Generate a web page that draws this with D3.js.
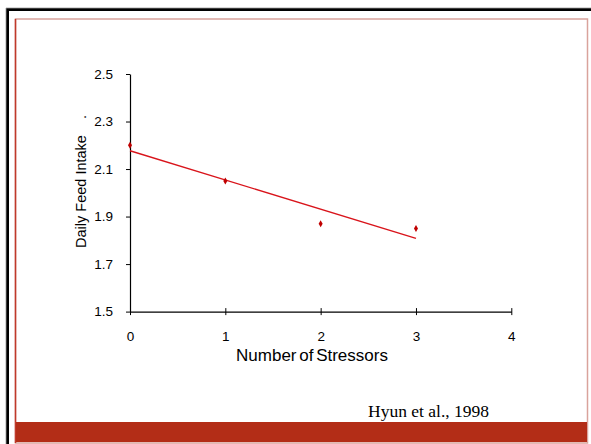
<!DOCTYPE html>
<html>
<head>
<meta charset="utf-8">
<script src="https://cdn.jsdelivr.net/npm/d3@7"></script>
<style>
  body { margin: 0; background: #fff; }
  svg { display: block; }
</style>
</head>
<body>
<script>
var w = 591;
var h = 444;

// data
var stressors = [0, 1, 2, 3];
var intake = [2.2, 2.05, 1.87, 1.85];
var xTicks = [0, 1, 2, 3, 4];
var yTicks = [1.5, 1.7, 1.9, 2.1, 2.3, 2.5];

var svg = d3.select("body")
    .append("svg")
    .attr("width", w)
    .attr("height", h);

// slide frame
svg.append("rect").attr("x", 0).attr("y", 0).attr("width", w).attr("height", h).attr("fill", "#fff");
svg.append("path")
    .attr("d", "M7.5," + h + "V9.5H" + w)
    .attr("fill", "none")
    .attr("stroke", "#000")
    .attr("stroke-width", 3);
svg.append("path")
    .attr("d", "M6," + h + "V8H" + w)
    .attr("fill", "none")
    .attr("stroke", "#999")
    .attr("stroke-width", 0.8);
svg.append("rect")
    .attr("x", 15.5).attr("y", 19)
    .attr("width", 572).attr("height", 424)
    .attr("fill", "none")
    .attr("stroke", "#d9a39c")
    .attr("stroke-width", 1.5);
svg.append("line")
    .attr("x1", 15.5).attr("x2", 15.5).attr("y1", 19).attr("y2", 443)
    .attr("stroke", "#c0392b").attr("stroke-width", 1.5);
svg.append("rect")
    .attr("x", 16).attr("y", 422)
    .attr("width", 571).attr("height", 20)
    .attr("fill", "#b32d17");

// scales
var x = d3.scaleLinear().domain([0, 4]).range([130, 511.3]);
var y = d3.scaleLinear().domain([1.5, 2.5]).range([311.6, 74]);

// y axis
var yAxis = d3.axisLeft(y)
    .tickValues(yTicks)
    .tickFormat(d3.format(".1f"))
    .tickSizeInner(4)
    .tickSizeOuter(0)
    .tickPadding(13);
var gy = svg.append("g")
    .attr("transform", "translate(130,0)")
    .call(yAxis)
    .attr("font-family", "Liberation Sans, Arial, sans-serif")
    .attr("font-size", 13.5);
gy.select(".domain").attr("stroke", "#000").attr("stroke-width", 1.2);
gy.selectAll(".tick line").attr("stroke", "#000");
gy.selectAll(".tick text").attr("fill", "#000");

// x axis with crossing ticks
var xAxis = d3.axisBottom(x)
    .tickValues(xTicks)
    .tickFormat(d3.format("d"))
    .tickSizeInner(3.5)
    .tickSizeOuter(0)
    .tickPadding(16);
var gx = svg.append("g")
    .attr("transform", "translate(0," + y(1.5) + ")")
    .call(xAxis)
    .attr("font-family", "Liberation Sans, Arial, sans-serif")
    .attr("font-size", 13.5);
gx.select(".domain").attr("stroke", "#000").attr("stroke-width", 1.2);
gx.selectAll(".tick line").attr("stroke", "#000").attr("y1", -3.5);
gx.selectAll(".tick text").attr("fill", "#000");

// linear trend through the points
var mx = d3.mean(stressors), my = d3.mean(intake);
var sxy = d3.sum(stressors, function(d, i){ return (d - mx) * (intake[i] - my); });
var sxx = d3.sum(stressors, function(d){ return (d - mx) * (d - mx); });
var slope = sxy / sxx;
var icpt = my - slope * mx;
var x0 = d3.min(stressors), x1 = d3.max(stressors);

svg.append("line")
    .attr("x1", x(x0)).attr("y1", y(icpt + slope * x0))
    .attr("x2", x(x1)).attr("y2", y(icpt + slope * x1))
    .attr("stroke", "#d9141b")
    .attr("stroke-width", 1.4);

// points (small diamonds)
svg.selectAll("path.pt")
    .data(stressors)
    .enter()
    .append("path")
    .attr("class", "pt")
    .attr("d", d3.symbol().type(d3.symbolDiamond).size(14))
    .attr("transform", function(d, i){
        return "translate(" + x(d) + "," + y(intake[i]) + ")";
    })
    .attr("fill", "#c00000");

// axis titles
svg.append("text")
    .attr("transform", "translate(86,191.5) rotate(-90)")
    .attr("text-anchor", "middle")
    .attr("font-family", "Liberation Sans, Arial, sans-serif")
    .attr("font-size", 14.5)
    .text("Daily Feed Intake");
svg.append("text")
    .attr("transform", "translate(86,117) rotate(-90)")
    .attr("text-anchor", "middle")
    .attr("font-family", "Liberation Sans, Arial, sans-serif")
    .attr("font-size", 14.5)
    .text(".");

svg.append("text")
    .attr("x", 312)
    .attr("y", 361)
    .attr("text-anchor", "middle")
    .attr("font-family", "Liberation Sans, Arial, sans-serif")
    .attr("font-size", 17)
    .attr("word-spacing", -2)
    .text("Number of Stressors");

svg.append("text")
    .attr("x", 368)
    .attr("y", 416.5)
    .attr("font-family", "Liberation Serif, Times New Roman, serif")
    .attr("font-size", 17.5)
    .text("Hyun et al., 1998");
</script>
</body>
</html>
